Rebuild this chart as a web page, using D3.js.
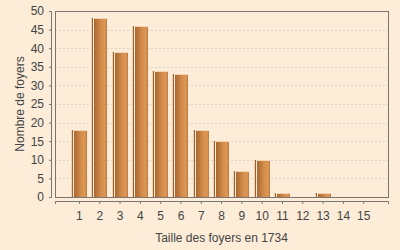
<!DOCTYPE html>
<html>
<head>
<meta charset="utf-8">
<script src="https://cdn.jsdelivr.net/npm/d3@7"></script>
<style>
  body { margin: 0; background: #fcecd8; }
  text { font-family: "Liberation Sans", Arial, sans-serif; fill: #444; }
</style>
</head>
<body>
<div id="chart"></div>
<script>
// household sizes in 1734 and number of households
var sizes = [1, 2, 3, 4, 5, 6, 7, 8, 9, 10, 11, 12, 13, 14, 15];
var counts = [18, 48, 39, 46, 34, 33, 18, 15, 7, 10, 1, 0, 1, 0, 0];
var yTicks = [0, 5, 10, 15, 20, 25, 30, 35, 40, 45, 50];

var W = 400, H = 250;
var plot = { left: 55, top: 11, right: 388, bottom: 197 };

var svg = d3.select("#chart").append("svg")
    .attr("width", W)
    .attr("height", H);

svg.append("rect")
    .attr("width", W).attr("height", H)
    .attr("fill", "#fcecd8");

var defs = svg.append("defs");
var grad = defs.append("linearGradient")
    .attr("id", "barGrad")
    .attr("x1", "0%").attr("x2", "100%")
    .attr("y1", "0%").attr("y2", "0%");
grad.append("stop").attr("offset", "0%").attr("stop-color", "#a96830");
grad.append("stop").attr("offset", "55%").attr("stop-color", "#d48d4c");
grad.append("stop").attr("offset", "85%").attr("stop-color", "#de9854");
grad.append("stop").attr("offset", "100%").attr("stop-color", "#b87743");

var x = d3.scaleLinear()
    .domain([-0.18, 16.22])
    .range([plot.left, plot.right]);

var y = d3.scaleLinear()
    .domain([0, 50])
    .range([plot.bottom, plot.top]);

// gridlines
svg.append("g")
    .selectAll("line")
    .data(yTicks.filter(d => d > 0))
    .join("line")
        .attr("x1", plot.left).attr("x2", plot.right)
        .attr("y1", d => Math.round(y(d)) + 0.5)
        .attr("y2", d => Math.round(y(d)) + 0.5)
        .attr("stroke", "#dbd3c9")
        .attr("stroke-dasharray", "2,2");

var data = sizes.map((s, i) => ({ size: s, count: counts[i] }));
var bars = svg.append("g")
    .selectAll("g")
    .data(data.filter(d => d.count > 0))
    .join("g");

// thin side strip left of each bar
bars.append("rect")
    .attr("x", d => Math.round(x(d.size)) - 8)
    .attr("y", d => Math.round(y(d.count)))
    .attr("width", 1)
    .attr("height", d => plot.bottom - Math.round(y(d.count)))
    .attr("fill", "#f0cfae");
bars.append("rect")
    .attr("x", d => Math.round(x(d.size)) - 7)
    .attr("y", d => Math.round(y(d.count)))
    .attr("width", 1)
    .attr("height", d => plot.bottom - Math.round(y(d.count)))
    .attr("fill", "#9c6233");

// bar body
bars.append("rect")
    .attr("x", d => Math.round(x(d.size)) - 5)
    .attr("y", d => Math.round(y(d.count)))
    .attr("width", 13)
    .attr("height", d => plot.bottom - Math.round(y(d.count)))
    .attr("fill", "url(#barGrad)");
bars.append("rect")
    .attr("x", d => Math.round(x(d.size)) - 5)
    .attr("y", d => Math.round(y(d.count)))
    .attr("width", 13)
    .attr("height", 1)
    .attr("fill", "#f2d3b3");

// plot frame
svg.append("rect")
    .attr("x", plot.left + 0.5).attr("y", plot.top + 0.5)
    .attr("width", plot.right - plot.left)
    .attr("height", plot.bottom - plot.top)
    .attr("fill", "none")
    .attr("stroke", "#7a7570")
    .attr("stroke-width", 1);

// axes, offset from the plot
var yAxis = svg.append("g")
    .attr("transform", "translate(" + (plot.left - 4) + ",0)")
    .call(d3.axisLeft(y).tickValues(yTicks).tickSize(2).tickPadding(5));

var xAxis = svg.append("g")
    .attr("transform", "translate(0," + (plot.bottom + 4) + ")")
    .call(d3.axisBottom(x).tickValues(sizes).tickSize(3).tickPadding(7));

[yAxis, xAxis].forEach(function (ax) {
    ax.select(".domain").attr("stroke", "#7a7570");
    ax.selectAll(".tick line").attr("stroke", "#7a7570");
    ax.selectAll(".tick text")
        .attr("fill", "#444")
        .style("font-family", "Liberation Sans, Arial, sans-serif")
        .style("font-size", "12px");
});

// axis labels
svg.append("text")
    .attr("x", (plot.left + plot.right) / 2)
    .attr("y", 242)
    .style("text-anchor", "middle")
    .style("font-size", "12px")
    .text("Taille des foyers en 1734");

svg.append("text")
    .attr("transform", "translate(24," + ((plot.top + plot.bottom) / 2) + ") rotate(-90)")
    .style("text-anchor", "middle")
    .style("font-size", "12px")
    .text("Nombre de foyers");
</script>
</body>
</html>
